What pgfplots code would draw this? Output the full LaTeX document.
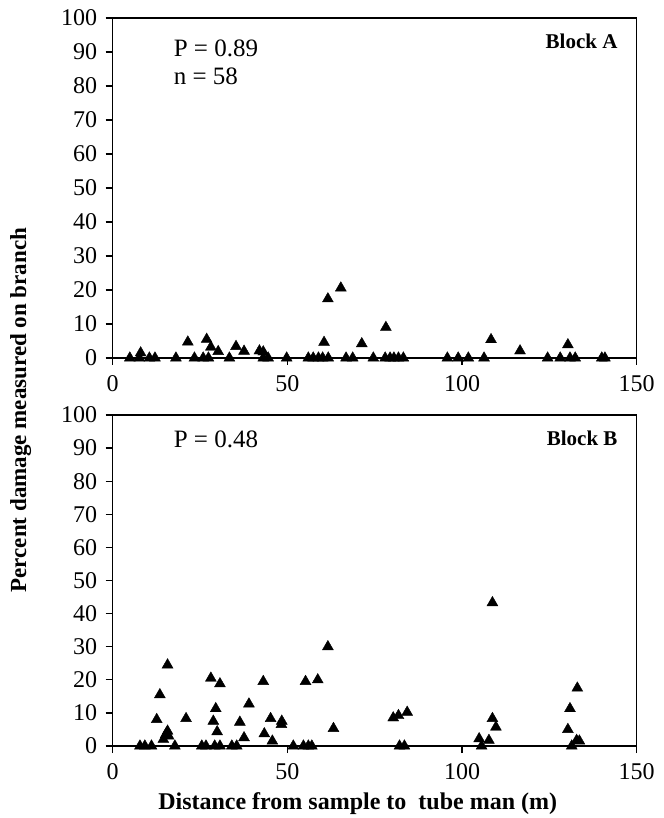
\documentclass[border=0pt]{standalone}
\usepackage{pgfplots}
\pgfplotsset{compat=1.18}
\usepackage{pgfplotstable}
\usepackage{fontspec}
\setmainfont{Liberation Serif}

% Block A (top panel)
\pgfplotstableread{
x y
4.9 0
7.6 0
8.0 1.5
10.5 0
12.1 0
18.1 0
21.5 4.7
23.4 0
25.9 0
26.9 5.5
27.4 0
28.1 3.2
30.2 1.9
33.4 0
35.3 3.4
37.6 2.0
42.0 2.1
43.1 1.8
43.1 0
44.5 0
49.8 0
56.0 0
57.4 0
58.9 0
60.1 0
61.7 0
60.5 4.6
61.6 17.4
65.3 20.6
66.8 0
68.7 0
71.3 4.2
74.6 0
78.0 0
79.4 0
80.5 0
81.8 0
83.2 0
78.2 9.0
95.8 0
98.9 0
101.8 0
106.3 0
108.3 5.4
116.6 2.1
124.5 0
128.1 0
130.9 0
132.4 0
130.3 3.9
140.0 0
140.9 0
}\blockA

% Block B (bottom panel)
\pgfplotstableread{
x y
7.8 0
9.2 0
11.1 0
12.6 8.0
13.5 15.5
15.7 24.5
14.5 2.0
15.2 3.5
15.7 4.5
16.0 3.0
17.8 0
21.0 8.3
25.5 0
26.7 0
28.1 20.5
28.8 7.5
29.5 11.3
29.9 4.3
30.7 18.8
29.2 0
30.7 0
34.1 0
35.5 0
36.4 7.2
37.6 2.5
39.0 12.7
43.1 19.5
43.4 3.7
45.2 8.3
45.7 1.5
48.4 7.5
48.3 6.5
51.7 0
54.6 0
56.0 0
57.0 0
55.2 19.5
58.7 20.0
61.6 30.0
63.2 5.3
80.3 8.5
81.8 9.2
84.3 10.2
82.1 0
83.5 0
104.9 2.2
105.6 0
107.7 1.7
108.7 43.3
108.7 8.3
109.7 5.7
130.3 5.0
130.9 11.3
133.0 17.5
131.4 0
132.8 1.7
133.6 1.5
}\blockB

\pgfplotsset{
  dmg/.style={
    scale only axis,
    width=524pt,
    xmin=0, xmax=150, ymin=0, ymax=100,
    xtick={0,50,100,150},
    ytick={0,10,...,100},
    xtick pos=bottom, ytick pos=left,
    tick align=outside,
    major tick length=7pt,
    axis line style={line width=1.5pt},
    every tick/.style={black, line width=1.3pt},
    tick label style={font=\fontsize{24}{28}\selectfont},
    xticklabel style={yshift=-7pt},
    yticklabel style={xshift=-5pt},
    /pgf/number format/assume math mode=true,
    clip=false,
  },
  pts/.style={only marks, mark=triangle*, mark size=6.3pt, black},
}

\begin{document}
\begin{tikzpicture}
\useasboundingbox (-112.7pt,-460pt) rectangle (550.3pt,358pt);

\begin{axis}[dmg, height=340pt, at={(0pt,0pt)}, anchor=south west]
\addplot[pts] table[x=x, y=y] {\blockA};
\node[anchor=west, font=\fontsize{25}{29}\selectfont] at (axis cs:16.5,91) {P = 0.89};
\node[anchor=west, font=\fontsize{25}{29}\selectfont] at (axis cs:16.5,82.8) {n = 58};
\node[anchor=east, font=\bfseries\fontsize{21}{25}\selectfont] at (axis cs:145.5,93) {Block A};
\end{axis}

\begin{axis}[dmg, height=331pt, at={(0pt,-388pt)}, anchor=south west]
\addplot[pts] table[x=x, y=y] {\blockB};
\node[anchor=west, font=\fontsize{25}{29}\selectfont] at (axis cs:16.5,92.5) {P = 0.48};
\node[anchor=east, font=\bfseries\fontsize{21}{25}\selectfont] at (axis cs:145.5,93) {Block B};
\end{axis}

\node[rotate=90, font=\bfseries\fontsize{23}{27}\selectfont] at (-92pt,-52pt) {Percent damage measured on branch};
\node[font=\bfseries\fontsize{24}{28}\selectfont] at (245pt,-446pt) {Distance from sample to\ \ tube man (m)};
\end{tikzpicture}
\end{document}
